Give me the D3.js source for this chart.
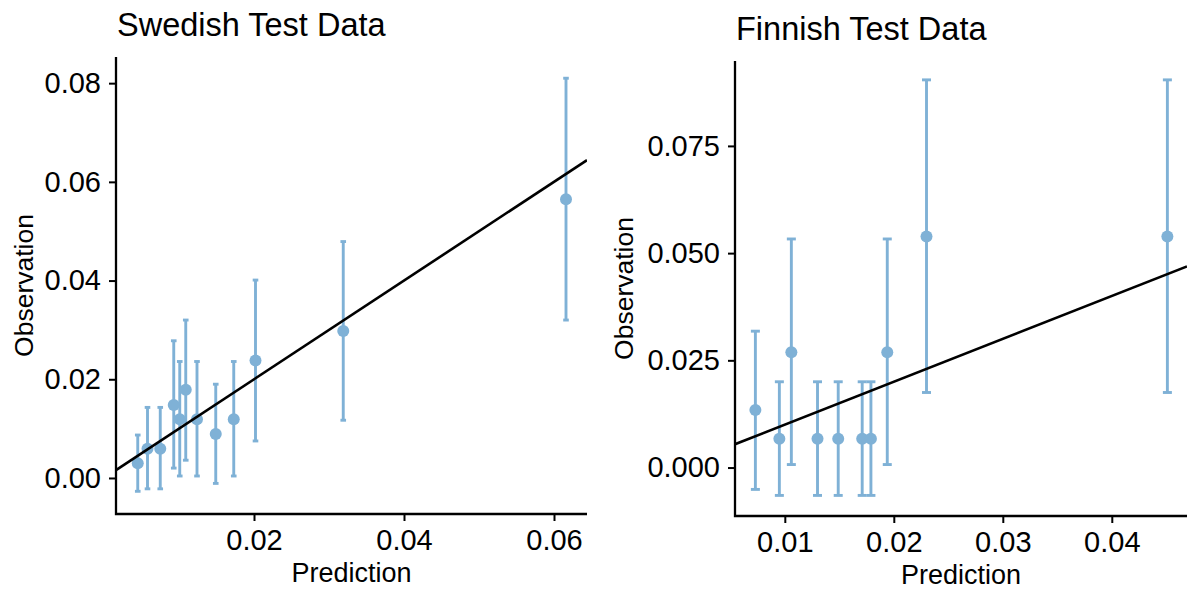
<!DOCTYPE html>
<html>
<head>
<meta charset="utf-8">
<script src="https://cdn.jsdelivr.net/npm/d3@7"></script>
<style>
  body { margin: 0; background: #fff; }
  svg text { font-family: "Liberation Sans", Arial, sans-serif; fill: #000; }
</style>
</head>
<body>
<svg id="chart" width="1187" height="589"></svg>
<script>
// Swedish test data: prediction, observation, and error bar limits
var swe_pred = [0.0045, 0.0058, 0.0075, 0.0093, 0.0101, 0.0109, 0.0124, 0.0149, 0.0173, 0.0202, 0.0319, 0.0616];
var swe_obs  = [0.0030, 0.0059, 0.0059, 0.0148, 0.0119, 0.0179, 0.0119, 0.0089, 0.0119, 0.0238, 0.0298, 0.0565];
var swe_lo   = [-0.0027, -0.0022, -0.0022, 0.0020, 0.0004, 0.0036, 0.0004, -0.0011, 0.0004, 0.0075, 0.0117, 0.0320];
var swe_hi   = [0.0087, 0.0143, 0.0143, 0.0278, 0.0236, 0.0320, 0.0236, 0.0190, 0.0236, 0.0401, 0.0479, 0.0810];

// Finnish test data
var fin_pred = [0.0073, 0.0095, 0.0106, 0.0130, 0.0149, 0.0171, 0.0179, 0.0194, 0.0230, 0.0451];
var fin_obs  = [0.0134, 0.0067, 0.0269, 0.0067, 0.0067, 0.0067, 0.0067, 0.0269, 0.0539, 0.0539];
var fin_lo   = [-0.0051, -0.0065, 0.0007, -0.0065, -0.0065, -0.0065, -0.0065, 0.0007, 0.0175, 0.0175];
var fin_hi   = [0.0318, 0.0200, 0.0533, 0.0200, 0.0200, 0.0200, 0.0200, 0.0533, 0.0904, 0.0904];

// tick labels
var swe_xticks = [0.02, 0.04, 0.06];
var swe_yticks = [0.00, 0.02, 0.04, 0.06, 0.08];
var fin_xticks = [0.01, 0.02, 0.03, 0.04];
var fin_yticks = [0.000, 0.025, 0.050, 0.075];

var point_color = "#7fb1d6";

function zip(pred, obs, lo, hi) {
  return pred.map(function(p, i) {
    return {pred: p, obs: obs[i], lo: lo[i], hi: hi[i]};
  });
}

function draw_panel(svg, opts) {
  var x = d3.scaleLinear().domain(opts.xdom).range([opts.left, opts.right]);
  var y = d3.scaleLinear().domain(opts.ydom).range([opts.bottom, opts.top]);
  var g = svg.append("g");

  var clip_id = "clip_" + opts.id;
  g.append("clipPath").attr("id", clip_id)
    .append("rect")
      .attr("x", opts.left).attr("y", opts.top)
      .attr("width", opts.right - opts.left)
      .attr("height", opts.bottom - opts.top);

  var plot = g.append("g").attr("clip-path", "url(#" + clip_id + ")");

  // error bars
  var bars = plot.selectAll("g.err")
    .data(opts.data)
    .enter()
    .append("g")
      .attr("class", "err")
      .attr("stroke", point_color)
      .attr("stroke-width", 2.9);
  bars.append("line")
    .attr("x1", function(d) { return x(d.pred); })
    .attr("x2", function(d) { return x(d.pred); })
    .attr("y1", function(d) { return y(d.lo); })
    .attr("y2", function(d) { return y(d.hi); });
  ["lo", "hi"].forEach(function(k) {
    bars.append("line")
      .attr("x1", function(d) { return x(d.pred) - opts.cap; })
      .attr("x2", function(d) { return x(d.pred) + opts.cap; })
      .attr("y1", function(d) { return y(d[k]); })
      .attr("y2", function(d) { return y(d[k]); });
  });

  // points
  plot.selectAll("circle")
    .data(opts.data)
    .enter()
    .append("circle")
      .attr("cx", function(d) { return x(d.pred); })
      .attr("cy", function(d) { return y(d.obs); })
      .attr("r", 6)
      .attr("fill", point_color);

  // identity line
  plot.append("line")
    .attr("x1", x(opts.xdom[0])).attr("y1", y(opts.xdom[0]))
    .attr("x2", x(opts.xdom[1])).attr("y2", y(opts.xdom[1]))
    .attr("stroke", "#000")
    .attr("stroke-width", 2.6);

  // axes
  var xaxis = g.append("g")
    .attr("transform", "translate(0," + opts.bottom + ")")
    .call(d3.axisBottom(x).tickValues(opts.xticks).tickSize(7).tickPadding(8)
      .tickFormat(d3.format(opts.xfmt)));
  var yaxis = g.append("g")
    .attr("transform", "translate(" + opts.left + ",0)")
    .call(d3.axisLeft(y).tickValues(opts.yticks).tickSize(7).tickPadding(8)
      .tickFormat(d3.format(opts.yfmt)));

  [xaxis, yaxis].forEach(function(a) {
    a.select(".domain").remove();
    a.selectAll(".tick line").attr("stroke", "#000").attr("stroke-width", 2);
    a.selectAll(".tick text").attr("font-size", 29).attr("fill", "#000")
      .attr("font-family", "'Liberation Sans', Arial, sans-serif");
  });

  // axis lines (ggplot classic style)
  g.append("path")
    .attr("d", "M" + opts.left + "," + opts.top + "V" + opts.bottom + "H" + opts.right)
    .attr("fill", "none")
    .attr("stroke", "#000")
    .attr("stroke-width", 2.3);

  // titles
  g.append("text")
    .attr("x", opts.left + 1)
    .attr("y", opts.top - 21)
    .attr("font-size", 32.5)
    .text(opts.title);

  g.append("text")
    .attr("x", (opts.left + opts.right) / 2)
    .attr("y", opts.bottom + 68)
    .attr("text-anchor", "middle")
    .attr("font-size", 27)
    .text("Prediction");

  g.append("text")
    .attr("transform", "translate(" + (opts.left - opts.ylab_gap) + "," + ((opts.top + opts.bottom) / 2) + ") rotate(-90)")
    .attr("text-anchor", "middle")
    .attr("font-size", 26.5)
    .text("Observation");
}

var svg = d3.select("#chart");

draw_panel(svg, {
  id: "swe",
  title: "Swedish Test Data",
  data: zip(swe_pred, swe_obs, swe_lo, swe_hi),
  xdom: [0.0016, 0.0644],
  ydom: [-0.0073, 0.0853],
  xticks: swe_xticks, yticks: swe_yticks,
  xfmt: ".2f", yfmt: ".2f",
  left: 116, right: 587, top: 57, bottom: 514,
  cap: 2.8, ylab_gap: 83
});

draw_panel(svg, {
  id: "fin",
  title: "Finnish Test Data",
  data: zip(fin_pred, fin_obs, fin_lo, fin_hi),
  xdom: [0.00543, 0.0469],
  ydom: [-0.0113, 0.0948],
  xticks: fin_xticks, yticks: fin_yticks,
  xfmt: ".2f", yfmt: ".3f",
  left: 735, right: 1187, top: 61, bottom: 516,
  cap: 4.5, ylab_gap: 102
});
</script>
</body>
</html>
